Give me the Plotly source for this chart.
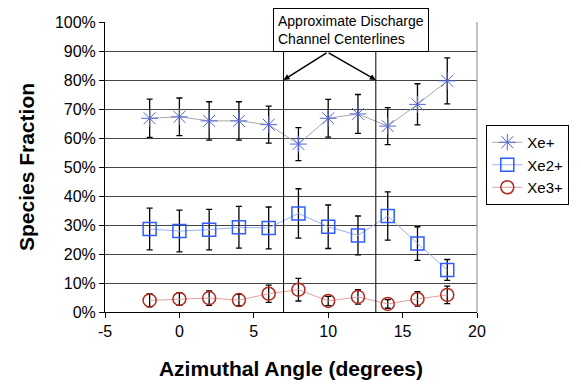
import plotly.graph_objects as go

angle = [-2, 0, 2, 4, 6, 8, 10, 12, 14, 16, 18]

xe1 = [66.8, 67.3, 65.9, 65.9, 64.6, 57.9, 66.8, 68.3, 64.1, 71.6, 79.7]
xe1_err = [6.6, 6.5, 6.6, 6.6, 6.4, 5.7, 6.5, 6.7, 6.4, 7.1, 7.9]

xe2 = [28.6, 27.9, 28.4, 29.2, 29.0, 34.0, 29.4, 26.4, 33.1, 23.6, 14.5]
xe2_err = [7.2, 7.2, 7.0, 7.2, 7.2, 8.5, 7.5, 6.7, 8.3, 5.8, 3.6]

xe3 = [4.0, 4.5, 4.8, 4.1, 6.3, 7.7, 3.8, 5.2, 2.8, 4.5, 5.9]
xe3_err = [2.2, 2.2, 2.5, 2.0, 3.0, 3.9, 1.6, 2.5, 1.5, 2.5, 3.0]

centerlines = [7.0, 13.2]
x_ticks = [-5, 0, 5, 10, 15, 20]
y_ticks = [0, 10, 20, 30, 40, 50, 60, 70, 80, 90, 100]

FONT = "Liberation Sans, Arial"

fig = go.Figure()

def add_series(name, y, err, marker, mcolor, lcolor, msize, mwidth):
    fig.add_trace(go.Scatter(
        x=angle, y=[v / 100 for v in y], name=name, mode="lines+markers",
        line=dict(color=lcolor, width=1),
        marker=dict(symbol=marker, size=msize, color=mcolor,
                    line=dict(color=mcolor, width=mwidth)),
        error_y=dict(type="data", array=[e / 100 for e in err], visible=True,
                     color="black", thickness=1.3, width=3),
    ))

add_series("Xe+", xe1, xe1_err, "asterisk-open", "#5464d8", "#a8a8a8", 14, 1)
add_series("Xe2+", xe2, xe2_err, "square-open", "#2f5cff", "#9fb0ff", 13, 1.5)
add_series("Xe3+", xe3, xe3_err, "circle-open", "#b0281e", "#e0a0a0", 13, 1.5)

for c in centerlines:
    fig.add_shape(type="line", xref="x", yref="y", x0=c, x1=c, y0=0, y1=1,
                  line=dict(color="black", width=1))

# right border of plot area
fig.add_shape(type="line", xref="paper", yref="paper", x0=1, x1=1, y0=0, y1=1,
              line=dict(color="#888888", width=1))

fig.add_annotation(xref="x", yref="paper", x=11.5, y=(312 - 30) / 290,
                   xanchor="center", yanchor="middle",
                   text="Approximate Discharge<br>Channel Centerlines",
                   showarrow=False, align="left",
                   font=dict(family=FONT, size=14, color="black"),
                   bordercolor="black", borderwidth=1, borderpad=4,
                   bgcolor="white")

for c in centerlines:
    fig.add_annotation(xref="x", yref="y", x=c, y=0.8, text="",
                       showarrow=True, axref="pixel", ayref="pixel",
                       ax=330 - (105 + (c + 5) * 376 / 25), ay=-28,
                       arrowhead=2, arrowsize=0.8, arrowwidth=1.5,
                       arrowcolor="black", standoff=0)

fig.update_layout(
    width=581, height=387,
    margin=dict(l=105, r=100, t=22, b=75),
    paper_bgcolor="white", plot_bgcolor="white",
    font=dict(family=FONT, size=16, color="black"),
    showlegend=True,
    legend=dict(x=1.025, y=(312 - 125) / 290, xanchor="left", yanchor="top",
                bordercolor="black", borderwidth=1, bgcolor="white",
                font=dict(size=15), tracegroupgap=0, itemwidth=30),
    xaxis=dict(range=[-5, 20], tickvals=x_ticks, automargin=False,
               ticktext=[str(v) for v in x_ticks], ticks="outside", ticklen=5,
               tickcolor="black", showline=True, linecolor="black", linewidth=1,
               showgrid=False, zeroline=False,
               title=dict(text="<b>Azimuthal Angle (degrees)</b>",
                          font=dict(size=21), standoff=22)),
    yaxis=dict(range=[0, 1], tickvals=[v / 100 for v in y_ticks],
               ticktext=[f"{v}%" for v in y_ticks], ticks="outside", ticklen=5,
               tickcolor="black", showline=True, linecolor="black", linewidth=1,
               showgrid=True, gridcolor="#444444", gridwidth=1, zeroline=False,
               title=dict(text="<b>Species Fraction</b>", font=dict(size=21),
                          standoff=14)),
)

fig.write_html("out.html")
